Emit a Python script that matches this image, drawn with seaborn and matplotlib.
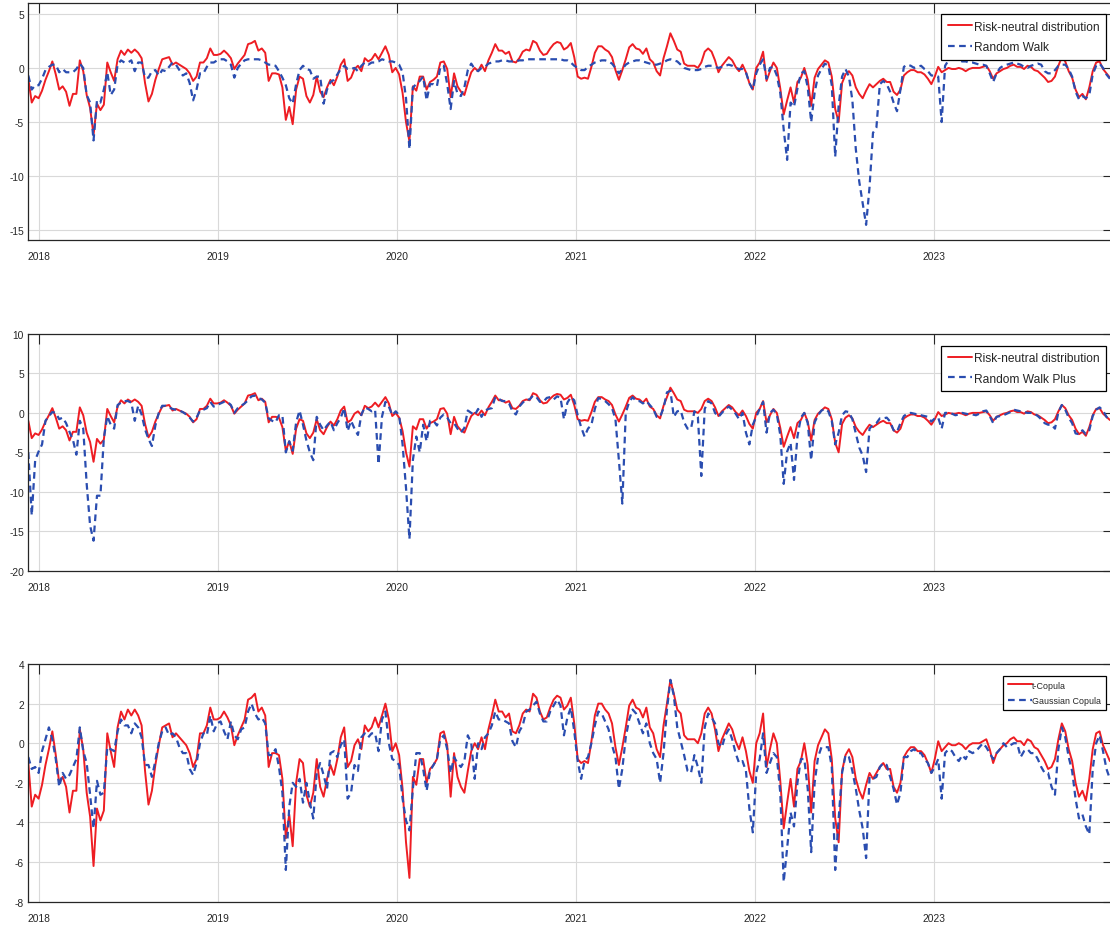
import pandas as pd
import matplotlib.pyplot as plt
import matplotlib.dates as mdates
from matplotlib import font_manager
import seaborn as sns

# weekly observation dates (Mondays)
dates = pd.date_range('2017-12-11', '2023-12-25', freq='7D')

# Risk-neutral distribution (red line, same series in all three panels)
risk_neutral = [
    -1.0, -3.2, -2.6, -2.8, -2.1, -1.1, -0.3, 0.6, -0.6, -2.0,
    -1.7, -2.2, -3.5, -2.4, -2.4, 0.7, -0.3, -2.5, -3.7, -6.2,
    -3.3, -3.9, -3.4, 0.5, -0.4, -1.2, 0.8, 1.6, 1.2, 1.7,
    1.4, 1.7, 1.4, 0.9, -1.4, -3.1, -2.4, -1.1, -0.1, 0.8,
    0.9, 1.0, 0.3, 0.5, 0.3, 0.1, -0.1, -0.5, -1.2, -0.8,
    0.5, 0.5, 0.9, 1.8, 1.2, 1.2, 1.3, 1.6, 1.3, 0.9,
    -0.1, 0.4, 0.8, 1.2, 2.2, 2.3, 2.5, 1.6, 1.8, 1.4,
    -1.2, -0.5, -0.5, -0.6, -1.8, -4.8, -3.6, -5.2, -2.0, -0.8,
    -1.0, -2.6, -3.2, -2.5, -0.8, -2.2, -2.7, -1.8, -1.1, -1.6,
    -0.8, 0.3, 0.8, -1.2, -0.9, -0.1, 0.2, -0.3, 0.9, 0.6,
    # 2019-11 .. 2021-12
    0.8, 1.3, 0.8, 1.4, 2.0, 1.2, -0.4, 0.0, -0.6, -2.3,
    -5.0, -6.8, -1.7, -2.1, -0.8, -0.8, -2.0, -1.3, -1.1, -0.8,
    0.5, 0.6, -0.1, -2.7, -0.5, -1.7, -2.2, -2.5, -1.4, -0.4,
    0.0, -0.3, 0.3, -0.3, 0.7, 1.4, 2.2, 1.6, 1.6, 1.3,
    1.5, 0.6, 0.5, 0.9, 1.5, 1.7, 1.6, 2.5, 2.3, 1.6,
    1.2, 1.3, 1.8, 2.2, 2.4, 2.3, 1.7, 1.9, 2.3, 1.0,
    -0.8, -1.0, -0.9, -1.0, 0.1, 1.4, 2.0, 2.0, 1.7, 1.5,
    1.0, -0.2, -1.1, -0.2, 0.8, 1.9, 2.2, 1.8, 1.7, 1.3,
    1.8, 0.8, 0.5, -0.3, -0.7, 0.9, 2.0, 3.2, 2.5, 1.7,
    1.5, 0.4, 0.2, 0.2, 0.2, 0.0, 0.5, 1.5, 1.8, 1.5,
    0.7, -0.4, 0.2, 0.6, 1.0, 0.7, 0.1, -0.3,
    # 2021-12 .. 2023-12
    0.3, -0.4, -1.4, -2.0, 0.0, 0.5, 1.5, -1.2, -0.3, 0.5,
    0.0, -1.9, -4.3, -3.0, -1.8, -3.2, -1.3, -0.9, 0.0, -1.1,
    -3.5, -0.9, -0.1, 0.3, 0.7, 0.5, -0.8, -3.8, -5.0, -1.4,
    -0.6, -0.3, -0.7, -1.8, -2.4, -2.8, -2.1, -1.5, -1.8, -1.5,
    -1.2, -1.0, -1.3, -1.3, -2.2, -2.5, -2.0, -0.7, -0.4, -0.2,
    -0.2, -0.4, -0.4, -0.6, -1.0, -1.5, -0.8, 0.1, -0.4, -0.2,
    0.0, -0.1, -0.1, 0.0, -0.1, -0.3, -0.1, 0.0, 0.0, 0.0,
    0.1, 0.2, -0.3, -1.0, -0.5, -0.3, -0.1, 0.0, 0.2, 0.3,
    0.1, 0.1, -0.1, 0.2, 0.1, -0.2, -0.3, -0.6, -0.9, -1.3,
    -1.2, -0.8, 0.2, 1.0, 0.6, -0.3, -0.9, -2.0, -2.7, -2.4,
    -2.9, -1.8, -0.3, 0.5, 0.6, -0.1, -0.5, -0.9,
]

# Random Walk (top panel, blue dashed)
random_walk = [
    -0.7, -2.0, -1.6, -1.6, -1.0, -0.2, 0.1, 0.3, 0.3, -0.4,
    -0.1, -0.4, -0.4, -0.4, -0.1, 0.4, 0.0, -2.5, -3.2, -6.7,
    -3.0, -3.2, -2.0, -0.4, -2.5, -2.0, 0.3, 0.7, 0.5, 0.5,
    0.7, -0.3, 0.5, 0.5, -0.9, -0.9, -0.3, -0.2, -0.7, -0.2,
    -0.3, 0.1, 0.5, 0.3, -0.2, -0.7, -0.5, -1.4, -3.0, -2.0,
    -0.5, -0.5, 0.1, 0.5, 0.5, 0.7, 0.8, 0.8, 0.6, 0.3,
    -0.9, 0.0, 0.4, 0.7, 0.8, 0.8, 0.8, 0.8, 0.7, 0.5,
    0.3, 0.3, 0.2, -0.3, -0.9, -1.6, -2.8, -3.3, -1.5, -0.2,
    0.2, -0.1, -0.2, -1.0, -0.8, -0.8, -3.3, -2.0, -1.3, -1.1,
    -0.6, -0.1, 0.2, -0.1, -0.1, 0.0, -0.3, 0.2, 0.5, 0.3,
    # 2019-11 .. 2021-12
    0.5, 0.5, 0.6, 0.8, 0.7, 0.6, 0.6, 0.5, 0.3, -0.4,
    -2.8, -7.5, -1.8, -1.5, -1.2, -0.8, -3.0, -1.5, -1.5, -1.7,
    0.1, 0.2, -1.5, -3.8, -1.2, -2.4, -2.6, -1.8, -0.2, 0.4,
    -0.1, -0.3, 0.0, 0.1, 0.4, 0.5, 0.6, 0.6, 0.7, 0.7,
    0.6, 0.6, 0.6, 0.7, 0.7, 0.8, 0.8, 0.8, 0.8, 0.8,
    0.8, 0.8, 0.8, 0.8, 0.8, 0.8, 0.7, 0.7, 0.5, 0.2,
    0.0, -0.2, -0.2, 0.1, 0.3, 0.5, 0.6, 0.7, 0.7, 0.6,
    0.4, 0.0, -0.5, -0.1, 0.3, 0.5, 0.6, 0.7, 0.7, 0.6,
    0.5, 0.4, 0.3, 0.3, 0.4, 0.5, 0.7, 0.8, 0.7, 0.6,
    0.3, 0.0, -0.1, -0.2, -0.2, -0.2, -0.1, 0.1, 0.2, 0.2,
    0.1, 0.0, 0.1, 0.2, 0.3, 0.2, 0.0, -0.1,
    # 2021-12 .. 2023-12
    -0.1, -0.4, -1.4, -2.0, -0.5, 0.3, 0.8, -1.0, 0.0, 0.1,
    -0.7, -2.3, -5.7, -8.5, -3.2, -3.6, -1.9, -0.5, -0.3, -1.8,
    -5.0, -2.3, -0.7, -0.1, 0.4, 0.2, -1.6, -8.2, -3.5, -0.8,
    -0.1, -0.8, -3.0, -7.5, -10.5, -12.5, -14.5, -11.0, -6.0, -5.5,
    -1.5, -1.2, -1.5, -2.2, -3.2, -4.0, -2.0, 0.1, 0.3, 0.2,
    0.0, 0.1, 0.2, -0.1, -0.3, -0.7, -0.7, -0.8, -5.0, 0.2,
    0.7, 0.8, 0.8, 0.7, 0.6, 0.6, 0.5, 0.5, 0.4, 0.3,
    0.3, 0.2, -0.5, -1.3, -0.5, 0.0, 0.2, 0.3, 0.4, 0.5,
    0.4, 0.3, 0.1, 0.0, 0.2, 0.3, 0.4, 0.3, -0.3, -0.5,
    -0.5, -0.2, 0.2, 0.3, 0.3, -0.1, -0.8, -2.2, -2.9, -2.6,
    -2.8, -2.5, -0.6, 0.2, 0.4, 0.0, -0.6, -1.0,
]

# Random Walk Plus (middle panel, blue dashed)
random_walk_plus = [
    -5.0, -13.0, -6.0, -4.9, -4.0, -1.0, -0.4, 0.1, 0.0, -0.8,
    -0.6, -1.3, -2.4, -3.4, -5.3, -1.0, -2.0, -9.0, -14.3, -16.2,
    -10.5, -10.5, -3.2, -0.4, -1.5, -2.0, 1.0, 1.3, 1.5, 1.5,
    1.3, -1.0, 0.9, -0.2, -2.1, -3.3, -4.2, -1.6, 0.0, 0.9,
    0.9, 0.7, 0.5, 0.4, 0.3, 0.1, -0.2, -0.6, -1.1, -0.6,
    0.3, 0.4, 0.6, 1.4, 0.8, 1.0, 1.2, 1.4, 1.4, 1.0,
    0.0, 0.6, 0.9, 1.2, 1.6, 2.1, 2.2, 1.9, 1.7, 1.3,
    -0.7, -1.0, -1.2, -0.3, -0.3, -5.0, -3.6, -4.8, -1.2, 0.3,
    -1.5, -3.5, -5.0, -6.0, -0.5, -1.5, -2.2, -1.6, -1.1, -2.2,
    -1.3, -0.6, 0.6, -2.3, -1.0, -2.0, -2.8, -0.2, 0.7, 0.5,
    # 2019-11 .. 2021-12
    0.2, 0.4, -6.5, -0.5, 1.4, 0.8, -0.3, 0.2, -0.3, -4.0,
    -9.5, -16.0, -6.0, -3.0, -5.0, -1.5, -3.6, -1.0, -1.0, -1.6,
    -0.6, -0.2, -0.6, -1.3, -1.3, -2.0, -2.5, -1.9, 0.3, 0.0,
    -0.3, 0.5, -0.5, 0.3, 0.5, 0.6, 2.0, 1.8, 1.5, 1.5,
    1.2, 0.2, -0.2, 0.8, 1.3, 1.7, 1.7, 2.2, 2.0, 1.4,
    1.4, 1.9, 2.0, 1.7, 2.1, 1.9, -0.8, 1.3, 2.0, 1.6,
    -0.3, -1.8, -3.0, -2.0, -1.5, 0.5, 1.9, 1.7, 1.5, 1.1,
    0.6, -0.8, -6.0, -11.5, 0.0, 1.4, 2.0, 1.5, 1.5, 1.2,
    1.5, 1.0, 0.5, -0.5, -0.5, 0.6, 2.6, 2.8, -0.5, 0.2,
    0.3, -1.2, -2.0, -2.0, 0.2, -0.5, -8.0, 0.5, 1.5, 1.2,
    0.0, -0.5, 0.0, 0.5, 0.8, 0.4, -0.1, -0.8,
    # 2021-12 .. 2023-12
    0.0, -2.5, -4.0, -1.5, -0.5, 0.5, 1.4, -2.5, 0.0, 0.4,
    -0.2, -2.8, -9.0, -4.9, -3.8, -8.5, -3.0, -0.6, 0.0, -1.3,
    -6.0, -1.2, -0.3, 0.3, 0.5, 0.2, -1.0, -4.0, -2.5, -0.3,
    0.2, 0.1, -0.8, -2.6, -4.4, -5.4, -7.5, -2.0, -1.5, -1.3,
    -0.7, -0.7, -0.6, -1.1, -2.2, -2.4, -1.3, -0.4, -0.1, 0.0,
    -0.1, -0.2, -0.3, -0.4, -0.5, -1.1, -0.7, -0.6, -2.0, 0.0,
    0.0, -0.1, -0.3, -0.2, 0.0, -0.1, -0.2, -0.2, -0.3, -0.1,
    0.2, 0.3, -0.4, -1.3, -0.5, -0.4, -0.3, -0.1, 0.1, 0.4,
    0.3, 0.2, 0.1, 0.0, 0.0, -0.1, -0.4, -0.8, -1.3, -1.5,
    -1.5, -2.0, 0.1, 1.0, 0.4, -0.6, -1.3, -2.6, -2.7, -2.2,
    -2.7, -2.2, -0.4, 0.4, 0.7, 0.3, -0.5, -1.0,
]

# Gaussian Copula (bottom panel, blue dashed)
gaussian_copula = [
    -0.7, -1.3, -1.2, -1.5, -0.4, 0.2, 0.8, 0.2, -0.8, -2.2,
    -1.5, -1.8, -1.6, -1.2, -0.8, 0.8, -0.4, -1.0, -2.6, -4.3,
    -1.9, -2.6, -2.5, -0.2, -0.3, -0.4, 0.6, 1.2, 0.9, 0.9,
    0.5, 1.0, 0.8, 0.3, -1.1, -1.1, -1.7, -0.9, 0.0, 0.6,
    0.8, 0.4, 0.5, 0.3, -0.2, -0.5, -0.5, -1.3, -1.6, -1.0,
    0.0, 0.5, 0.4, 1.4, 0.6, 1.0, 1.1, 0.6, 0.2, 1.1,
    0.4, 0.2, 0.7, 0.8, 1.6, 2.0, 1.5, 1.2, 1.3, 1.0,
    -0.6, -0.6, -0.3, -1.2, -2.5, -6.4, -3.2, -2.0, -2.2, -1.8,
    -3.0, -2.0, -3.0, -3.8, -1.5, -1.0, -1.6, -2.3, -0.5, -0.4,
    -0.7, -0.1, 0.2, -2.8, -2.5, -1.1, -1.4, 0.3, 0.5, 0.3,
    # 2019-11 .. 2021-12
    0.5, 0.5, -0.4, 1.2, 1.6, 0.0, -0.8, -0.9, -1.1, -2.8,
    -3.9, -4.4, -2.3, -0.5, -0.5, -1.3, -2.4, -1.4, -1.1, -0.8,
    0.2, 0.4, -0.3, -1.5, -0.7, -1.0, -1.2, -0.9, 0.4, 0.0,
    -1.8, 0.0, -0.3, 0.3, 0.5, 0.9, 1.6, 1.2, 1.2, 1.1,
    1.0, 0.1, -0.2, 0.6, 0.9, 1.6, 1.7, 1.9, 2.1, 1.5,
    1.1, 1.1, 1.6, 1.9, 2.2, 1.9, 0.4, 1.3, 1.8, 0.6,
    -0.9, -1.8, -0.9, -0.7, 0.0, 0.9, 1.6, 1.5, 1.1, 0.7,
    -0.1, -0.7, -2.3, -1.3, 0.3, 1.2, 1.7, 1.5, 1.0, 0.5,
    1.0, 0.0, -0.5, -0.8, -2.0, -0.5, 1.7, 3.2, 2.4, 0.8,
    0.1, -0.6, -1.4, -1.5, -0.6, -1.2, -2.0, 0.8, 1.5, 1.3,
    1.0, 0.0, -0.2, 0.4, 0.7, 0.2, -0.5, -1.0,
    # 2021-12 .. 2023-12
    -0.9, -1.4, -3.3, -4.5, -1.5, -0.8, 0.5, -1.5, -1.0, -0.5,
    -0.7, -2.5, -7.0, -5.3, -3.5, -4.2, -2.0, -0.8, -0.8, -2.3,
    -5.5, -2.0, -0.7, -0.2, -0.2, -0.2, -1.2, -6.4, -3.8, -1.5,
    -0.6, -0.7, -1.4, -2.3, -3.4, -4.3, -5.8, -1.7, -1.8, -1.7,
    -1.2, -1.0, -1.1, -1.7, -2.3, -3.1, -2.5, -0.7, -0.7, -0.4,
    -0.3, -0.5, -0.5, -0.8, -1.0, -1.5, -1.2, -0.8, -2.8, -0.5,
    -0.3, -0.4, -0.7, -0.9, -0.6, -0.8, -0.4, -0.5, -0.4, -0.2,
    0.0, -0.2, -0.5, -0.8, -0.5, -0.3, 0.0, -0.2, -0.1, 0.0,
    0.0, -0.7, -0.4, -0.3, -0.5, -0.5, -0.8, -1.2, -1.5, -1.5,
    -2.2, -2.6, -0.3, 0.8, 0.3, -0.7, -1.4, -2.8, -3.8, -3.6,
    -4.2, -4.6, -1.3, 0.0, 0.4, -0.4, -1.3, -1.8,
]

red_labels = ['Risk-neutral distribution', 'Risk-neutral distribution', 't-Copula']
blue_labels = ['Random Walk', 'Random Walk Plus', 'Gaussian Copula']
blue_series = [random_walk, random_walk_plus, gaussian_copula]
y_limits = [(-15.9, 6), (-20, 10), (-8, 4)]
y_ticks = [[-15, -10, -5, 0, 5], [-20, -15, -10, -5, 0, 5, 10], [-8, -6, -4, -2, 0, 2, 4]]
year_ticks = pd.to_datetime(['2018-01-01', '2019-01-01', '2020-01-01', '2021-01-01', '2022-01-01', '2023-01-01'])

sns.set_theme(style='white')
try:
    font_manager.findfont('Liberation Sans Narrow', fallback_to_default=False)
    family, k = 'Liberation Sans Narrow', 1.0
except ValueError:
    family, k = 'Liberation Sans', 0.82
plt.rcParams['font.family'] = [family, 'DejaVu Sans']
plt.rcParams['axes.unicode_minus'] = False

RED = '#EE1D23'
BLUE = '#2A4DB0'

fig = plt.figure(figsize=(11.1, 9.28), dpi=100)
boxes = [[0.0255, 0.7403, 0.9775, 0.2554],
         [0.0255, 0.3840, 0.9775, 0.2550],
         [0.0255, 0.0273, 0.9775, 0.2561]]
leg_y = [0.9536, 0.9506, 0.9508]

for i in range(3):
    ax = fig.add_axes(boxes[i])
    sns.lineplot(x=dates, y=risk_neutral, ax=ax, color=RED, lw=1.4, label=red_labels[i])
    sns.lineplot(x=dates, y=blue_series[i], ax=ax, color=BLUE, lw=1.6,
                 linestyle=(0, (3, 2)), label=blue_labels[i])

    ax.set_xlim(pd.Timestamp('2017-12-11'), pd.Timestamp('2024-01-01'))
    ax.set_ylim(*y_limits[i])
    ax.set_yticks(y_ticks[i])
    ax.set_yticklabels([str(v) for v in y_ticks[i]])
    ax.set_xticks(year_ticks)
    ax.xaxis.set_major_formatter(mdates.DateFormatter('%Y'))
    ax.set_xlabel('')
    ax.set_ylabel('')

    ax.grid(True, color='#d9d9d9', lw=0.8)
    ax.set_axisbelow(True)
    for s in ax.spines.values():
        s.set_color('#262626')
        s.set_linewidth(0.9)
    ax.tick_params(direction='in', length=7, width=0.8, color='#262626',
                   top=True, right=True, labelsize=9 * k, labelcolor='#262626')
    ax.tick_params(axis='x', pad=8)
    ax.tick_params(axis='y', pad=3)

    if i < 2:
        leg = ax.legend(loc='upper right', bbox_to_anchor=(0.9935, leg_y[i]), borderaxespad=0,
                        fancybox=False, framealpha=1, edgecolor='black', fontsize=10.5 * k,
                        handlelength=2.0, handletextpad=0.2, borderpad=0.55, labelspacing=0.7)
    else:
        leg = ax.legend(loc='upper right', bbox_to_anchor=(0.9935, leg_y[i]), borderaxespad=0,
                        fancybox=False, framealpha=1, edgecolor='black', fontsize=7.8 * k,
                        handlelength=2.7, handletextpad=0.1, borderpad=0.55, labelspacing=0.7)
    leg.get_frame().set_linewidth(0.9)

fig.savefig('out.png', dpi=100)
